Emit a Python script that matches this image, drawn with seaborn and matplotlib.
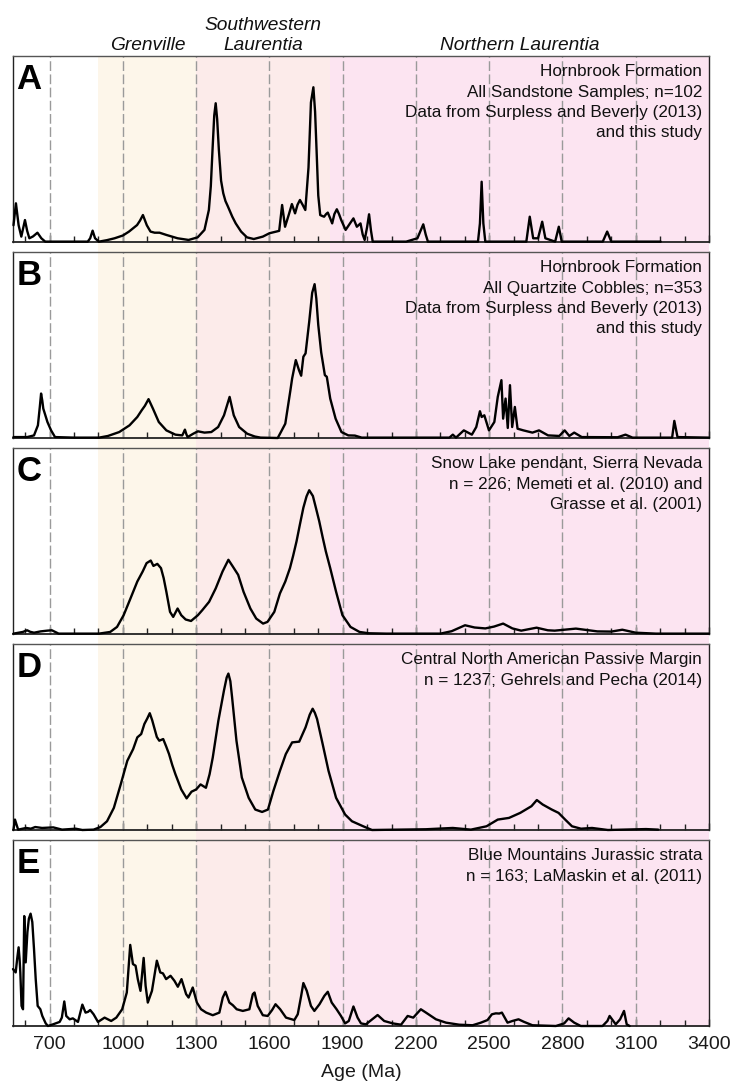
# Detrital zircon age spectra - five stacked probability curves
import numpy as np
import matplotlib.pyplot as plt
import matplotlib.transforms as mtransforms
from matplotlib.ticker import FixedLocator, MultipleLocator
import seaborn as sns

# ── DATA (ages in Ma, relative probability 0-1 of panel height) ──

A_AGE = [552, 562, 573, 584, 599, 608, 617, 632, 650, 666, 682, 856, 866, 876, 886, 902,
         935, 966, 1000, 1025, 1058, 1070, 1082, 1098, 1113, 1130, 1150, 1178, 1224, 1269,
         1306, 1334, 1352, 1360, 1367, 1374, 1380, 1386, 1393, 1402, 1411, 1420, 1429, 1448,
         1462, 1484, 1508, 1536, 1573, 1600, 1628, 1640, 1652, 1664, 1680, 1692, 1705, 1715,
         1725, 1736, 1747, 1760, 1770, 1780, 1787, 1793, 1800, 1808, 1816, 1824, 1832, 1839,
         1848, 1857, 1866, 1876, 1885, 1894, 1912, 1930, 1944, 1958, 1973, 1982, 1990, 2000,
         2008, 2016, 2023, 2160, 2206, 2222, 2230, 2240, 2249, 2454, 2462, 2469, 2476, 2484,
         2652, 2666, 2680, 2700, 2717, 2730, 2770, 2785, 2797, 2965, 2983, 3000, 3202]
A_PROB = [.09, .208, .09, .029, .118, .06, .02, .03, .05, .02, .002, .002, .02, .061, .02, .002,
          .01, .02, .035, .056, .091, .115, .145, .09, .056, .05, .05, .038, .02, .011,
          .025, .065, .172, .30, .495, .68, .746, .66, .495, .33, .262, .22, .194, .136,
          .10, .056, .025, .016, .029, .047, .056, .06, .199, .082, .15, .204, .154, .20,
          .226, .20, .172, .40, .75, .832, .70, .495, .25, .145, .14, .136, .15, .158,
          .13, .10, .15, .176, .15, .118, .065, .10, .127, .082, .10, .04, .011, .08,
          .149, .06, .002, .002, .02, .07, .095, .04, .002, .002, .10, .324, .10, .002,
          .002, .136, .02, .02, .109, .02, .002, .082, .002, .002, .056, .002, .002]

B_AGE = [552, 608, 636, 652, 660, 665, 670, 674, 691, 706, 722, 800, 902, 939, 985, 1027,
         1059, 1077, 1090, 1105, 1123, 1147, 1178, 1215, 1243, 1249, 1254, 1260, 1265, 1288,
         1307, 1334, 1362, 1390, 1414, 1437, 1454, 1476, 1509, 1540, 1564, 1634, 1647, 1665,
         1686, 1693, 1708, 1721, 1730, 1739, 1748, 1763, 1775, 1785, 1792, 1800, 1812, 1827,
         1835, 1849, 1871, 1895, 1923, 1950, 1978, 2337, 2351, 2364, 2396, 2429, 2447, 2462,
         2469, 2480, 2499, 2521, 2535, 2550, 2557, 2567, 2576, 2585, 2594, 2605, 2616, 2640,
         2677, 2704, 2741, 2787, 2809, 2828, 2848, 2879, 3026, 3058, 3087, 3249, 3258, 3271,
         3400]
B_PROB = [.005, .005, .014, .068, .17, .239, .20, .158, .086, .041, .005, .002, .002, .011, .032, .068,
          .113, .149, .173, .209, .158, .086, .041, .018, .014, .03, .045, .02, .005, .023,
          .036, .029, .032, .059, .122, .221, .122, .059, .023, .008, .002, 0, .032, .077,
          .257, .32, .419, .365, .335, .437, .455, .626, .78, .827, .75, .608, .46, .338,
          .329, .212, .104, .032, .014, .013, .002, .002, .018, .002, .041, .018, .059, .144,
          .113, .122, .041, .086, .221, .311, .104, .212, .054, .284, .059, .167, .05, .041,
          .029, .041, .014, .011, .041, .011, .029, .005, .004, .018, .002, .002, .092, .005,
          .002]

C_AGE = [552, 590, 608, 620, 636, 663, 690, 709, 737, 902, 948, 976, 1003, 1031, 1059, 1081,
         1097, 1114, 1125, 1141, 1156, 1167, 1178, 1193, 1206, 1224, 1239, 1257, 1279, 1307,
         1325, 1353, 1380, 1408, 1432, 1450, 1472, 1494, 1522, 1546, 1574, 1592, 1620, 1643,
         1665, 1684, 1697, 1711, 1725, 1739, 1752, 1763, 1778, 1790, 1804, 1818, 1831, 1849,
         1873, 1899, 1932, 1969, 2006, 2079, 2300, 2346, 2401, 2440, 2484, 2520, 2557, 2595,
         2631, 2694, 2740, 2768, 2855, 2943, 3000, 3045, 3100, 3183, 3400]
C_PROB = [.002, .011, .02, .012, .007, .014, .018, .02, .002, .002, .011, .038, .101, .191, .282, .336,
          .381, .395, .366, .377, .354, .30, .227, .119, .092, .137, .101, .078, .07, .101,
          .128, .173, .245, .336, .399, .363, .318, .227, .137, .083, .056, .065, .119, .218,
          .282, .354, .42, .498, .59, .679, .74, .773, .742, .68, .606, .52, .444, .354,
          .227, .101, .038, .011, .004, .002, .002, .015, .047, .035, .03, .04, .056, .03,
          .018, .034, .02, .018, .029, .014, .013, .023, .007, .002, .002]

D_AGE = [552, 558, 571, 604, 623, 641, 669, 715, 751, 807, 834, 880, 908, 935, 963, 991,
         1018, 1042, 1059, 1075, 1088, 1100, 1110, 1120, 1128, 1139, 1149, 1165, 1177, 1189,
         1202, 1215, 1239, 1261, 1281, 1300, 1318, 1340, 1355, 1368, 1391, 1414, 1425, 1432,
         1440, 1447, 1465, 1487, 1515, 1542, 1570, 1594, 1616, 1643, 1667, 1693, 1722, 1748,
         1765, 1777, 1786, 1795, 1818, 1842, 1873, 1910, 1938, 1984, 2020, 2131, 2241, 2351,
         2425, 2489, 2535, 2581, 2627, 2673, 2695, 2719, 2756, 2784, 2811, 2839, 2876, 2921,
         2986, 3142, 3192]
D_PROB = [.002, .056, .002, .011, .007, .016, .011, .014, .002, .007, 0, .002, .016, .047, .119, .245,
          .372, .435, .498, .516, .57, .60, .628, .59, .552, .50, .48, .489, .45, .408,
          .35, .30, .218, .17, .206, .218, .245, .227, .30, .39, .588, .751, .82, .841,
          .80, .715, .48, .282, .173, .11, .097, .11, .209, .318, .408, .471, .475, .552,
          .62, .652, .63, .597, .462, .318, .173, .083, .047, .02, 0, .002, .004, .011,
          .002, .02, .056, .065, .092, .128, .161, .137, .11, .092, .056, .02, .007, .011,
          0, .005, .002]

E_AGE = [550, 561, 567, 573, 577, 580, 585, 591, 594, 596, 602, 609, 615, 622, 629, 636,
         643, 651, 662, 670, 684, 693, 714, 741, 750, 760, 768, 782, 795, 816, 834, 847,
         857, 866, 880, 898, 925, 952, 973, 997, 1016, 1030, 1041, 1052, 1061, 1072, 1085, 1093,
         1102, 1119, 1139, 1153, 1164, 1177, 1195, 1211, 1225, 1240, 1259, 1269, 1286, 1303,
         1320, 1341, 1368, 1395, 1409, 1420, 1436, 1450, 1466, 1491, 1518, 1532, 1539, 1552,
         1573, 1593, 1611, 1625, 1644, 1668, 1702, 1716, 1730, 1739, 1753, 1770, 1784, 1805,
         1825, 1839, 1855, 1875, 1893, 1910, 1925, 1944, 1961, 1975, 1995, 2043, 2070, 2105,
         2139, 2166, 2189, 2220, 2241, 2282, 2323, 2377, 2432, 2466, 2493, 2511, 2527, 2541,
         2552, 2575, 2595, 2620, 2643, 2677, 2773, 2807, 2825, 2848, 2875, 2964, 2984, 2993,
         3018, 3036, 3052, 3063, 3075]
E_PROB = [.306, .288, .36, .423, .36, .288, .108, .09, .414, .591, .342, .505, .577, .604, .559, .414,
          .252, .108, .09, .054, .014, 0, .009, .022, .045, .132, .054, .036, .041, .022, .115, .072,
          .076, .086, .063, .022, .045, .027, .045, .09, .18, .436, .333, .324, .252, .189, .366, .216,
          .126, .189, .351, .288, .283, .252, .27, .243, .211, .252, .171, .153, .207, .126,
          .09, .072, .058, .072, .153, .184, .126, .112, .09, .081, .09, .171, .18, .108,
          .058, .054, .086, .117, .09, .045, .032, .063, .162, .231, .189, .108, .081, .117,
          .162, .184, .126, .09, .054, .014, .027, .105, .045, .014, .009, .059, .027, .014,
          .007, .054, .045, .09, .072, .036, .018, .007, .004, .018, .032, .063, .068, .067,
          .072, .018, .027, .036, .022, .004, 0, .014, .041, .018, 0, 0, .027, .054,
          .009, .036, .081, .009, 0]

PANEL_LETTERS = ['A', 'B', 'C', 'D', 'E']
PANEL_NOTES = [
    'Hornbrook Formation\nAll Sandstone Samples; n=102\nData from Surpless and Beverly (2013)\nand this study',
    'Hornbrook Formation\nAll Quartzite Cobbles; n=353\nData from Surpless and Beverly (2013)\nand this study',
    'Snow Lake pendant, Sierra Nevada\nn = 226; Memeti et al. (2010) and\nGrasse et al. (2001)',
    'Central North American Passive Margin\nn = 1237; Gehrels and Pecha (2014)',
    'Blue Mountains Jurassic strata\nn = 163; LaMaskin et al. (2011)',
]
CURVES = [(A_AGE, A_PROB), (B_AGE, B_PROB), (C_AGE, C_PROB), (D_AGE, D_PROB), (E_AGE, E_PROB)]

REGION_NAMES = ['Grenville', 'Southwestern\nLaurentia', 'Northern Laurentia']
REGION_SPANS = [(900, 1300), (1300, 1850), (1850, 3400)]
REGION_COLORS = ['#FDF6EA', '#FCEBEA', '#FCE4F1']

TICK_MAJOR = [700, 1000, 1300, 1600, 1900, 2200, 2500, 2800, 3100, 3400]
DASHED_AT = [700, 1000, 1300, 1600, 1900, 2200, 2500, 2800, 3100]
XMIN, XMAX = 550, 3400

# ── STYLE ───────────────────────────────────────────────────

sns.set_theme(style='white')
plt.rcParams['font.family'] = ['Liberation Sans', 'DejaVu Sans']

W, H = 734, 1090
fig = plt.figure(figsize=(W / 100, H / 100), dpi=100)

left, right = 13 / W, 709 / W
top, bottom = 1 - 56 / H, 1 - 1027 / H
panel_h, gap = 186 / H, 10 / H

# background shading spans all panels (and the gaps between them)
bg = fig.add_axes([left, bottom, right - left, top - bottom])
bg.set_zorder(0)
for (x0, x1), col in zip(REGION_SPANS, REGION_COLORS):
    bg.axvspan(x0, x1, color=col, lw=0)
bg.set_xlim(XMIN, XMAX)
bg.axis('off')

axes = []
for i, (age, prob) in enumerate(CURVES):
    y0 = top - (i + 1) * panel_h - i * gap
    ax = fig.add_axes([left, y0, right - left, panel_h])
    ax.set_zorder(1)
    ax.set_facecolor('none')

    for x in DASHED_AT:
        ax.axvline(x, color='#9a9a9a', lw=1, dashes=(7, 2.5), zorder=1)

    sns.lineplot(x=age, y=prob, ax=ax, color='black', lw=1.7,
                 estimator=None, sort=False, clip_on=False, zorder=3)

    ax.set_xlim(XMIN, XMAX)
    ax.set_ylim(0, 1)
    ax.set_yticks([])
    ax.xaxis.set_major_locator(FixedLocator(TICK_MAJOR))
    ax.xaxis.set_minor_locator(MultipleLocator(100))
    ax.tick_params(axis='x', which='both', direction='in', bottom=True, top=False,
                   color='#222222', width=1)
    ax.tick_params(axis='x', which='major', length=5, pad=7, labelsize=14,
                   labelcolor='#1a1a1a')
    ax.tick_params(axis='x', which='minor', length=4)
    for s in ax.spines.values():
        s.set_color('#222222')
        s.set_linewidth(1.0)
    ax.spines['bottom'].set_linewidth(1.3)
    ax.spines['top'].set_color('#555555')

    ax.text(0.005, 0.965, PANEL_LETTERS[i], transform=ax.transAxes, ha='left', va='top',
            fontsize=25, fontweight='bold', color='black')
    ax.text(0.99, 0.955, PANEL_NOTES[i], transform=ax.transAxes, ha='right', va='top',
            fontsize=12.3, color='#111111', linespacing=1.43)

    if i < 4:
        ax.tick_params(axis='x', labelbottom=False)
    else:
        ax.set_xlabel('Age (Ma)', fontsize=14, labelpad=8, color='#1a1a1a')
    ax.set_ylabel('')
    axes.append(ax)

# region names above the top panel
trans = mtransforms.blended_transform_factory(axes[0].transData, axes[0].transAxes)
for name, (x0, x1) in zip(REGION_NAMES, REGION_SPANS):
    axes[0].text((x0 + x1) / 2, 1.034, name, transform=trans, ha='center', va='baseline',
                 fontsize=13.8, style='italic', linespacing=1.2, color='#111111')

fig.savefig('out.png', dpi=100)
print("saved out.png")
